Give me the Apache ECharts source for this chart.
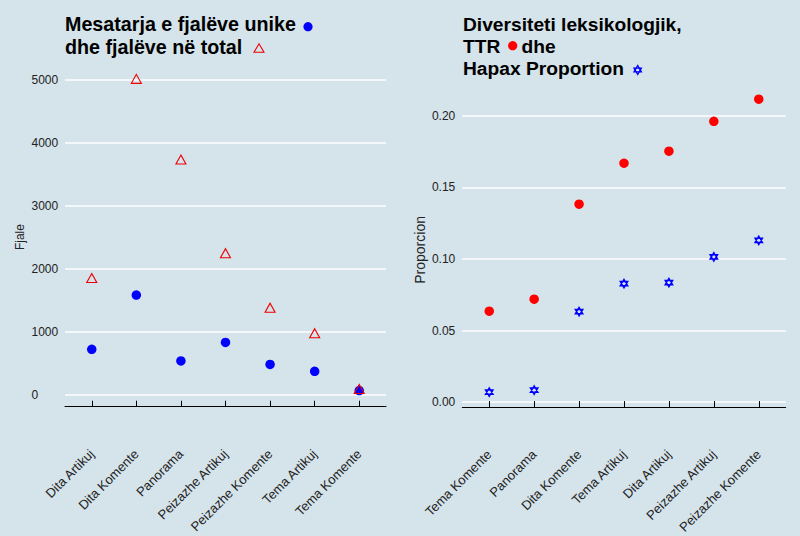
<!DOCTYPE html>
<html>
<head>
<meta charset="utf-8">
<script src="https://cdn.jsdelivr.net/npm/echarts@6/dist/echarts.min.js"></script>
<style>
html,body{margin:0;padding:0;background:#d5e3ea;}
#c{width:800px;height:536px;}
</style>
</head>
<body>
<div id="c"></div>
<script>
// ---- data ----
var leftCats = ['Dita Artikuj','Dita Komente','Panorama','Peizazhe Artikuj','Peizazhe Komente','Tema Artikuj','Tema Komente'];
var uniqueWords = [720, 1580, 535, 830, 480, 370, 65];
var totalWords = [1850, 5010, 3730, 2245, 1380, 975, 90];
var leftTicks = ['0','1000','2000','3000','4000','5000'];

var rightCats = ['Tema Komente','Panorama','Dita Komente','Tema Artikuj','Dita Artikuj','Peizazhe Artikuj','Peizazhe Komente'];
var ttr = [0.0635, 0.0719, 0.1382, 0.1668, 0.1752, 0.1961, 0.2115];
var hapax = [0.0070, 0.0084, 0.0632, 0.0828, 0.0835, 0.1014, 0.1130];
var rightTicks = ['0.00','0.05','0.10','0.15','0.20'];

// ---- chart ----
var FONT = '"Liberation Sans", Arial, sans-serif';
var TXT = '#222222';
var STAR = 'path://M0,-1L0.866,0.5L-0.866,0.5Z M0,1L0.866,-0.5L-0.866,-0.5Z';
function idx(arr){ return arr.map(function(v,i){ return [i, v]; }); }
function catAxis(cats, gridIndex, offset){
  var vals = cats.map(function(c,i){ return i; });
  return {
    type:'value', gridIndex:gridIndex, min:-0.6, max:cats.length-0.4, offset:offset,
    axisLine:{show:true, onZero:false, lineStyle:{color:'#000', width:1}},
    axisTick:{show:true, inside:true, length:6, customValues:vals, lineStyle:{color:'#000', width:1}},
    axisLabel:{customValues:vals, rotate:45, margin:45, fontSize:13, color:TXT, fontFamily:FONT,
      formatter:function(v){ return cats[Math.round(v)]; }},
    splitLine:{show:false}
  };
}
var chart = echarts.init(document.getElementById('c'), null, {renderer:'svg'});
chart.setOption({
  backgroundColor:'#d5e3ea',
  animation:false,
  title:[
    {text:'Mesatarja e fjalëve unike\ndhe fjalëve në total', left:65, top:13, padding:0,
     textStyle:{fontSize:19.7, fontWeight:'bold', color:'#000', fontFamily:FONT, lineHeight:22.5}},
    {text:'Diversiteti leksikologjik,\nTTR    dhe\nHapax Proportion', left:463, top:14, padding:0,
     textStyle:{fontSize:19.2, fontWeight:'bold', color:'#000', fontFamily:FONT, lineHeight:21.7}}
  ],
  grid:[
    {left:65, right:414, top:79.5, bottom:141.3},
    {left:462.3, right:14.3, top:115.7, bottom:133.7}
  ],
  xAxis:[ catAxis(leftCats, 0, 12), catAxis(rightCats, 1, 5) ],
  yAxis:[
    {type:'value', gridIndex:0, min:0, max:5000, interval:1000,
     name:'Fjale', nameLocation:'middle', nameGap:39,
     nameTextStyle:{fontSize:12, color:TXT, fontFamily:FONT},
     axisLine:{show:false}, axisTick:{show:false},
     axisLabel:{margin:33.5, align:'left', fontSize:12, color:TXT, fontFamily:FONT,
       formatter:function(v){ return leftTicks[Math.round(v/1000)]; }},
     splitLine:{lineStyle:{color:'#ffffff', width:1.7}}},
    {type:'value', gridIndex:1, min:0, max:0.2, interval:0.05,
     name:'Proporcion', nameLocation:'middle', nameGap:35,
     nameTextStyle:{fontSize:14, color:TXT, fontFamily:FONT, padding:[0,0,0,18]},
     axisLine:{show:false}, axisTick:{show:false},
     axisLabel:{margin:7, fontSize:12, color:TXT, fontFamily:FONT,
       formatter:function(v){ return rightTicks[Math.round(v/0.05)]; }},
     splitLine:{lineStyle:{color:'#ffffff', width:1.7}}}
  ],
  series:[
    {type:'scatter', name:'unike', xAxisIndex:0, yAxisIndex:0, data:idx(uniqueWords), clip:false,
     symbol:'circle', symbolSize:9.5, itemStyle:{color:'#0000ff', opacity:1}, z:3},
    {type:'scatter', name:'total', xAxisIndex:0, yAxisIndex:0, data:idx(totalWords), clip:false,
     symbol:'triangle', symbolSize:[10,9], itemStyle:{color:'rgba(0,0,0,0)', borderColor:'#ee0000', borderWidth:1.1, opacity:1}, z:4},
    {type:'scatter', name:'TTR', xAxisIndex:1, yAxisIndex:1, data:idx(ttr), clip:false,
     symbol:'circle', symbolSize:9.5, itemStyle:{color:'#ff0000', opacity:1}, z:3},
    {type:'scatter', name:'Hapax', xAxisIndex:1, yAxisIndex:1, data:idx(hapax), clip:false,
     symbol:STAR, symbolSize:[7.5,8.5], itemStyle:{color:'rgba(0,0,0,0)', borderColor:'#0000ff', borderWidth:1.4, opacity:1}, z:4}
  ],
  graphic:[
    {type:'circle', shape:{cx:308, cy:26.7, r:4.6}, style:{fill:'#0000ff'}},
    {type:'polygon', shape:{points:[[259,43.8],[264,52.3],[254,52.3]]}, style:{fill:'none', stroke:'#ee0000', lineWidth:1.1}},
    {type:'circle', shape:{cx:512.7, cy:45.7, r:4.6}, style:{fill:'#ff0000'}},
    {type:'polygon', shape:{points:[[637.7,65.5],[641.4,71.9],[634,71.9]]}, style:{fill:'none', stroke:'#0000ff', lineWidth:1.3}},
    {type:'polygon', shape:{points:[[637.7,74.5],[641.4,68.1],[634,68.1]]}, style:{fill:'none', stroke:'#0000ff', lineWidth:1.3}}
  ]
});
</script>
</body>
</html>
